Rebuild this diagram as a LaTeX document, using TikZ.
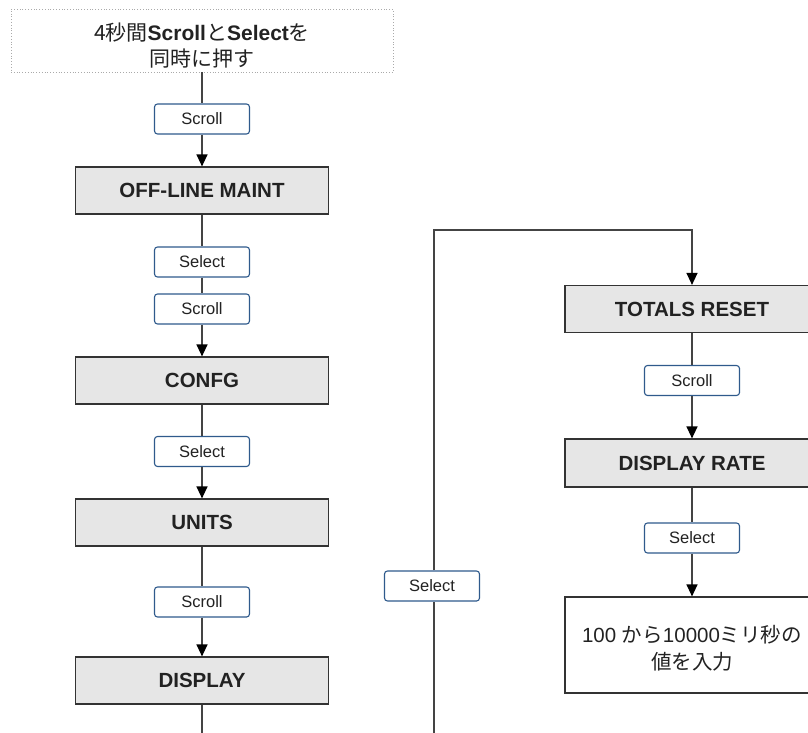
\documentclass[tikz,border=0pt]{standalone}
\usepackage{fontspec}
\setmainfont{Liberation Sans}
\newfontfamily\cjk{Noto Sans CJK JP}
\usetikzlibrary{arrows.meta}
\definecolor{boxfill}{HTML}{E6E6E6}
\definecolor{boxline}{HTML}{333333}
\definecolor{linecol}{HTML}{444444}
\definecolor{btnblue}{HTML}{2F5A8C}
\definecolor{txt}{HTML}{222222}
\definecolor{dotgray}{HTML}{AAAAAA}
\tikzset{
  menubox/.style={draw=boxline, fill=boxfill, line width=1.2pt, minimum width=253pt, minimum height=47pt, inner sep=0pt, font=\fontsize{20.5}{24}\selectfont\bfseries, text=txt},
  btn/.style={draw=btnblue, fill=white, rounded corners=3pt, line width=1.1pt, minimum width=95pt, minimum height=30pt, inner sep=0pt, font=\fontsize{16.5}{20}\selectfont, text=txt},
  conn/.style={draw=linecol, line width=1.3pt},
  arr/.style={conn, -{Triangle[width=11pt,length=12pt,black]}},
  notebox/.style={draw=dotgray, dotted, line width=0.8pt, fill=white, minimum width=382pt, minimum height=63pt, inner sep=0pt, align=center, font=\fontsize{21}{26}\selectfont, text=txt},
  inputbox/.style={draw=boxline, fill=white, line width=1.2pt, minimum width=254pt, minimum height=96pt, inner sep=0pt, align=center, font=\fontsize{20.5}{27}\selectfont, text=txt}
}
\begin{document}
\begin{tikzpicture}[x=1pt,y=-1pt]
\useasboundingbox (0,0) rectangle (808,733);
\clip (0,0) rectangle (808,733);
\fill[white] (0,0) rectangle (808,733);

% left column
\node[notebox] (top) at (202,40.5) {\raisebox{-8pt}[\height][\depth]{\begin{tabular}{@{}c@{}}{\cjk 4秒間}\textbf{Scroll}{\cjk と}\textbf{Select}{\cjk を}\\{\cjk 同時に押す}\end{tabular}}};
\node[btn] (b1) at (202,119) {Scroll};
\node[menubox] (offline) at (202,190.5) {OFF-LINE MAINT};
\node[btn] (b2) at (202,262) {Select};
\node[btn] (b3) at (202,309) {Scroll};
\node[menubox] (confg) at (202,380.5) {CONFG};
\node[btn] (b4) at (202,451.5) {Select};
\node[menubox] (units) at (202,522.5) {UNITS};
\node[btn] (b5) at (202,602) {Scroll};
\node[menubox] (display) at (202,680.5) {DISPLAY};
\coordinate (leftend) at (202,745);

% right column
\coordinate (loopstart) at (434,745);
\coordinate (loopa) at (434,230);
\coordinate (loopb) at (692,230);
\node[btn] (b6) at (432,586) {Select};
\node[menubox, minimum width=254pt] (totals) at (692,309) {TOTALS RESET};
\node[btn] (b7) at (692,380.5) {Scroll};
\node[menubox, minimum width=254pt, minimum height=48pt] (disprate) at (692,463) {DISPLAY RATE};
\node[btn] (b8) at (692,538) {Select};
\node[inputbox] (input) at (692,645) {\raisebox{-6pt}[\height][\depth]{\begin{tabular}{@{}c@{}}100 {\cjk から}10000{\cjk ミリ秒の}\\{\cjk 値を入力}\end{tabular}}};

% connectors
\draw[conn] (top.south) -- (b1.north);
\draw[arr] (b1.south) -- (offline.north);
\draw[conn] (offline.south) -- (b2.north);
\draw[conn] (b2.south) -- (b3.north);
\draw[arr] (b3.south) -- (confg.north);
\draw[conn] (confg.south) -- (b4.north);
\draw[arr] (b4.south) -- (units.north);
\draw[conn] (units.south) -- (b5.north);
\draw[arr] (b5.south) -- (display.north);
\draw[conn] (display.south) -- (leftend);

\draw[conn] (loopstart) -- (b6.south -| loopstart);
\draw[arr] (b6.north -| loopstart) -- (loopa) -- (loopb) -- (totals.north);
\draw[conn] (totals.south) -- (b7.north);
\draw[arr] (b7.south) -- (disprate.north);
\draw[conn] (disprate.south) -- (b8.north);
\draw[arr] (b8.south) -- (input.north);
\end{tikzpicture}
\end{document}
